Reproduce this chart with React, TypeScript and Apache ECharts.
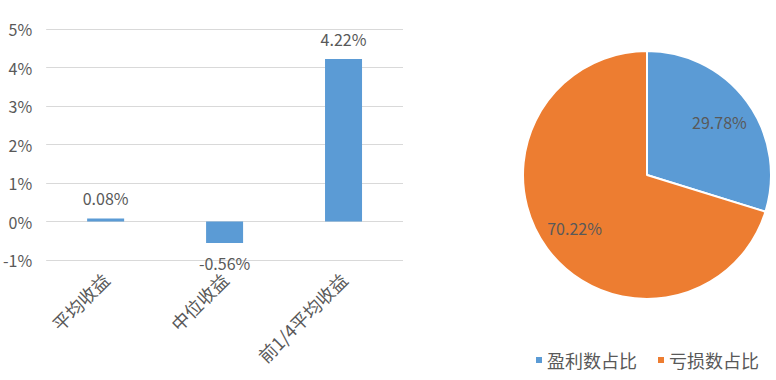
import React, { useEffect, useRef } from "react";
import * as echarts from "echarts";

const barCategories = ["平均收益", "中位收益", "前1/4平均收益"];
const barValues = [0.08, -0.56, 4.22];
const yTicks = [-1, 0, 1, 2, 3, 4, 5];

const pieNames = ["盈利数占比", "亏损数占比"];
const pieValues = [29.78, 70.22];

const BLUE = "#5b9bd5";
const ORANGE = "#ed7d31";
const TEXT = "#595959";
const FONT = "'Noto Sans CJK SC', 'Noto Sans', sans-serif";

export default function App() {
  const ref = useRef<HTMLDivElement>(null);
  useEffect(() => {
    if (!ref.current) return;
    const chart = echarts.init(ref.current, undefined, { renderer: "svg" });
    const pieData = pieNames.map((n, i) => ({
      name: n,
      value: pieValues[i],
      itemStyle: { color: i === 0 ? BLUE : ORANGE },
    }));
    chart.setOption({
      animation: false,
      textStyle: { fontFamily: FONT },
      grid: { left: 46, right: 373, top: 29, bottom: 120 },
      xAxis: {
        type: "category",
        data: barCategories,
        axisLine: { show: false },
        axisTick: { show: false },
        axisLabel: {
          rotate: 45,
          color: TEXT,
          fontSize: 18,
          fontFamily: FONT,
          margin: 16,
          interval: 0,
        },
      },
      yAxis: {
        type: "value",
        min: yTicks[0],
        max: yTicks[yTicks.length - 1],
        interval: 1,
        axisLine: { show: false },
        axisTick: { show: false },
        axisLabel: {
          color: TEXT,
          fontSize: 16,
          fontFamily: FONT,
          margin: 14,
          formatter: (v: number) => `${v}%`,
        },
        splitLine: { lineStyle: { color: "#d9d9d9", width: 1 } },
      },
      legend: {
        data: pieNames,
        left: 531,
        top: 346,
        icon: "rect",
        itemWidth: 6,
        itemHeight: 6,
        itemGap: 21,
        itemStyle: { borderWidth: 0 },
        textStyle: { color: TEXT, fontSize: 18, fontFamily: FONT },
      },
      series: [
        {
          type: "bar",
          data: barValues.map((v) => ({
            value: v,
            label: { position: v < 0 ? "bottom" : "top" },
          })),
          barWidth: 37,
          itemStyle: { color: BLUE },
          label: {
            show: true,
            color: TEXT,
            fontSize: 16,
            fontFamily: FONT,
            distance: 12,
            formatter: (p: any) => `${p.value.toFixed(2)}%`,
          },
        },
        {
          type: "pie",
          center: [647, 175],
          radius: [0, 124],
          startAngle: 90,
          clockwise: true,
          data: pieData,
          label: { show: false },
          labelLine: { show: false },
          itemStyle: { borderColor: "#fff", borderWidth: 2 },
        },
        {
          type: "pie",
          center: [647, 175],
          radius: [50, 124],
          startAngle: 90,
          clockwise: true,
          silent: true,
          legendHoverLink: false,
          data: pieNames.map((n, i) => ({
            name: n + " ",
            value: pieValues[i],
            itemStyle: { color: "rgba(0,0,0,0)" },
          })),
          label: {
            show: true,
            position: "inside",
            color: TEXT,
            fontSize: 16,
            fontFamily: FONT,
            formatter: (p: any) => `${p.value.toFixed(2)}%`,
          },
          labelLine: { show: false },
        },
      ],
    });
    return () => chart.dispose();
  }, []);
  return (
    <div
      ref={ref}
      style={{ position: "absolute", left: 0, top: 0, width: 776, height: 380 }}
    />
  );
}
